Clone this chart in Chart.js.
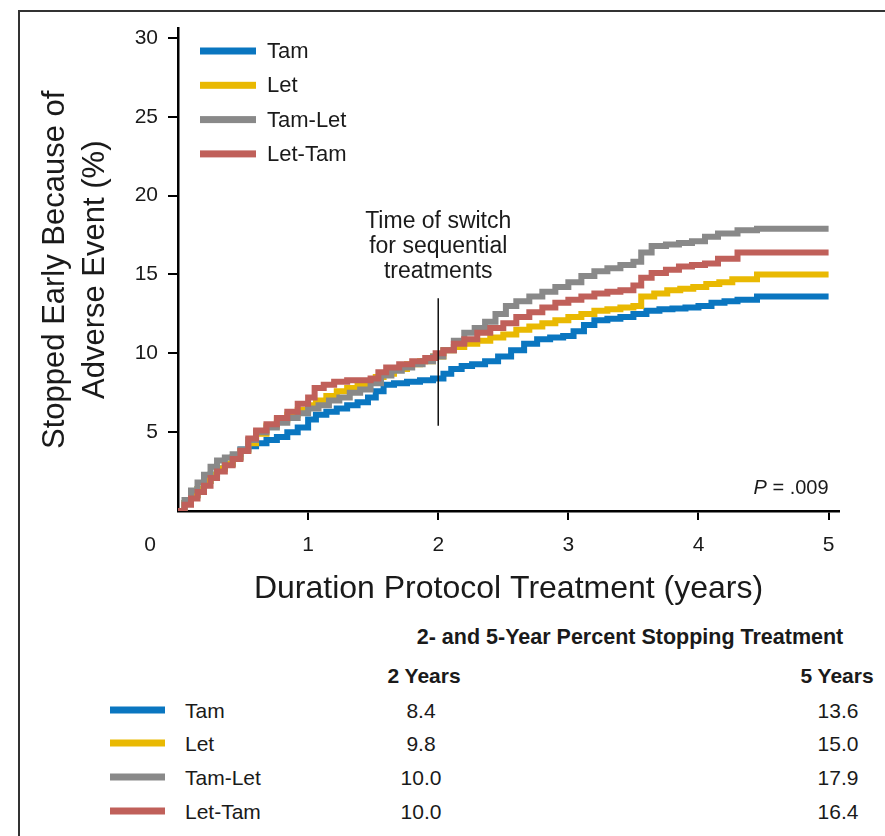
<!DOCTYPE html>
<html>
<head>
<meta charset="utf-8">
<script src="https://cdn.jsdelivr.net/npm/chart.js@4.4.1/dist/chart.umd.min.js"></script>
<style>
  body { margin: 0; background: #fff; font-family: "Liberation Sans", Arial, sans-serif; color: #1a1a1a; }
  #wrap { position: relative; width: 885px; height: 836px; overflow: hidden; }
  #frame { position: absolute; left: 18px; top: 10px; width: 900px; height: 900px;
           border-top: 2px solid #333; border-left: 2px solid #333; }
  #myChart { position: absolute; left: 0; top: 0; }
  .t { position: absolute; white-space: nowrap; font-size: 21px; line-height: 1; transform: translate(-50%, -50%); }
  .l { transform: translate(0, -50%); }
  .b { font-weight: bold; }
  .h { font-size: 21.5px; }
  .sw { position: absolute; width: 55px; height: 7px; transform: translate(0, -50%); }
</style>
</head>
<body>
<div id="wrap">
  <div id="frame"></div>
  <canvas id="myChart" width="885" height="620"></canvas>
  <div id="table"></div>
</div>
<script>
// series names and colours
var seriesNames = ['Tam', 'Let', 'Tam-Let', 'Let-Tam'];
var seriesColors = ['#0a76c0', '#e9b902', '#898989', '#c0605a'];

// cumulative % stopped early (years, percent)
var tamYears = [0, 0.05, 0.1, 0.15, 0.2, 0.25, 0.3, 0.36, 0.42, 0.48,
  0.54, 0.6, 0.68, 0.76, 0.84, 0.92, 1.0, 1.06, 1.14, 1.22,
  1.3, 1.38, 1.46, 1.52, 1.58, 1.66, 1.76, 1.86, 1.96, 2.04,
  2.1, 2.18, 2.26, 2.36, 2.46, 2.56, 2.66, 2.76, 2.86, 2.96,
  3.04, 3.12, 3.2, 3.3, 3.4, 3.5, 3.6, 3.7, 3.8, 3.9,
  4.0, 4.1, 4.2, 4.3, 4.45, 5.0];
var tamPct = [0, 0.5, 1.0, 1.4, 1.9, 2.3, 2.7, 3.0, 3.4, 3.9,
  4.1, 4.3, 4.5, 4.7, 5.0, 5.3, 5.8, 6.1, 6.3, 6.5,
  6.7, 6.9, 7.2, 7.6, 8.0, 8.1, 8.2, 8.3, 8.4, 8.7,
  9.0, 9.2, 9.3, 9.5, 9.8, 10.2, 10.6, 10.9, 11.0, 11.1,
  11.4, 11.8, 12.1, 12.2, 12.3, 12.5, 12.7, 12.8, 12.85, 12.9,
  13.0, 13.2, 13.3, 13.4, 13.6, 13.6];

var letYears = [0, 0.05, 0.1, 0.15, 0.2, 0.25, 0.3, 0.36, 0.42, 0.48,
  0.54, 0.6, 0.68, 0.76, 0.84, 0.92, 1.0, 1.06, 1.14, 1.22,
  1.3, 1.38, 1.46, 1.52, 1.58, 1.66, 1.76, 1.86, 1.96, 2.04,
  2.12, 2.2, 2.3, 2.4, 2.5, 2.6, 2.7, 2.8, 2.9, 3.0,
  3.1, 3.2, 3.3, 3.4, 3.5, 3.56, 3.66, 3.76, 3.86, 3.96,
  4.06, 4.16, 4.26, 4.45, 5.0];
var letPct = [0, 0.5, 1.0, 1.4, 1.9, 2.3, 2.7, 3.0, 3.4, 3.8,
  4.3, 4.9, 5.4, 5.8, 6.1, 6.4, 6.7, 7.0, 7.3, 7.6,
  7.8, 8.0, 8.2, 8.5, 8.7, 9.0, 9.3, 9.5, 9.8, 10.2,
  10.4, 10.6, 10.8, 11.0, 11.2, 11.5, 11.7, 11.9, 12.1, 12.3,
  12.5, 12.7, 12.8, 12.9, 13.0, 13.6, 13.8, 14.0, 14.1, 14.2,
  14.4, 14.5, 14.7, 15.0, 15.0];

var tamLetYears = [0, 0.05, 0.1, 0.15, 0.2, 0.25, 0.3, 0.36, 0.42, 0.48,
  0.54, 0.6, 0.68, 0.76, 0.84, 0.92, 1.0, 1.08, 1.16, 1.24,
  1.32, 1.4, 1.48, 1.56, 1.64, 1.72, 1.8, 1.88, 1.96, 2.04,
  2.12, 2.2, 2.28, 2.36, 2.44, 2.52, 2.6, 2.7, 2.8, 2.9,
  3.0, 3.1, 3.2, 3.3, 3.4, 3.5, 3.56, 3.64, 3.75, 3.85,
  3.95, 4.05, 4.15, 4.3, 4.45, 5.0];
var tamLetPct = [0, 0.7, 1.3, 1.8, 2.3, 2.8, 3.2, 3.4, 3.6, 3.9,
  4.5, 5.0, 5.3, 5.6, 5.9, 6.2, 6.5, 6.7, 7.0, 7.2,
  7.5, 7.7, 8.1, 8.6, 8.9, 9.1, 9.3, 9.5, 9.8, 10.2,
  10.8, 11.3, 11.6, 12.0, 12.5, 13.0, 13.3, 13.6, 13.9, 14.2,
  14.5, 14.9, 15.2, 15.4, 15.6, 15.8, 16.4, 16.8, 16.9, 17.0,
  17.1, 17.4, 17.6, 17.8, 17.9, 17.9];

var letTamYears = [0, 0.05, 0.1, 0.15, 0.2, 0.25, 0.3, 0.36, 0.42, 0.48,
  0.54, 0.6, 0.68, 0.76, 0.84, 0.92, 1.0, 1.05, 1.12, 1.2,
  1.3, 1.4, 1.48, 1.54, 1.6, 1.7, 1.8, 1.9, 1.98, 2.04,
  2.12, 2.2, 2.3, 2.4, 2.5, 2.6, 2.7, 2.8, 2.9, 3.0,
  3.1, 3.2, 3.3, 3.4, 3.5, 3.56, 3.64, 3.75, 3.85, 3.95,
  4.05, 4.15, 4.3, 5.0];
var letTamPct = [0, 0.4, 0.8, 1.2, 1.6, 2.1, 2.5, 2.9, 3.3, 3.8,
  4.6, 5.1, 5.5, 5.9, 6.3, 6.8, 7.2, 7.8, 8.0, 8.2,
  8.3, 8.3, 8.4, 8.8, 9.1, 9.3, 9.5, 9.7, 10.0, 10.2,
  10.6, 10.9, 11.3, 11.6, 11.9, 12.3, 12.6, 12.9, 13.2, 13.4,
  13.6, 13.8, 13.9, 14.0, 14.3, 14.8, 15.1, 15.3, 15.5, 15.6,
  15.7, 16.0, 16.4, 16.4];

// table under the chart
var twoYearPct = ['8.4', '9.8', '10.0', '10.0'];
var fiveYearPct = ['13.6', '15.0', '17.9', '16.4'];

var switchYear = 2;
var pText = '.009';

function pts(xs, ys) {
  return xs.map(function (x, i) { return { x: x, y: ys[i] }; });
}

var allYears = [tamYears, letYears, tamLetYears, letTamYears];
var allPct = [tamPct, letPct, tamLetPct, letTamPct];
var drawOrder = [3, 2, 1, 0]; // red on top

var datasets = seriesNames.map(function (name, i) {
  return {
    label: name,
    data: pts(allYears[i], allPct[i]),
    borderColor: seriesColors[i],
    borderWidth: 6,
    stepped: true,
    pointRadius: 0,
    fill: false,
    order: drawOrder[i]
  };
});

var FONT = '"Liberation Sans", Arial, sans-serif';
var TXT = '#1a1a1a';

var extras = {
  id: 'extras',
  afterDatasetsDraw: function (chart) {
    var ctx = chart.ctx;
    var xs = chart.scales.x, ys = chart.scales.y;
    ctx.save();
    // legend inside plot
    ctx.font = '22px ' + FONT;
    ctx.textBaseline = 'middle';
    ctx.textAlign = 'left';
    seriesNames.forEach(function (name, i) {
      var y = 51 + i * 34.3;
      ctx.fillStyle = seriesColors[i];
      ctx.fillRect(200, y - 3.5, 56, 7);
      ctx.fillStyle = TXT;
      ctx.fillText(name, 267, y + 1);
    });
    // switch marker
    var sx = xs.getPixelForValue(switchYear);
    ctx.strokeStyle = '#111';
    ctx.lineWidth = 1.5;
    ctx.beginPath();
    ctx.moveTo(sx, ys.getPixelForValue(13.5));
    ctx.lineTo(sx, ys.getPixelForValue(5.4));
    ctx.stroke();
    ctx.font = '23px ' + FONT;
    ctx.textAlign = 'center';
    ctx.fillStyle = TXT;
    ['Time of switch', 'for sequential', 'treatments'].forEach(function (s, i) {
      ctx.fillText(s, sx, 222 + i * 25);
    });
    // P value
    ctx.textAlign = 'right';
    ctx.font = '20px ' + FONT;
    var rest = ' = ' + pText;
    var rx = xs.getPixelForValue(5);
    ctx.fillText(rest, rx, 488);
    var w = ctx.measureText(rest).width;
    ctx.font = 'italic 20px ' + FONT;
    ctx.fillText('P', rx - w, 488);
    // origin label
    ctx.font = '21px ' + FONT;
    ctx.textAlign = 'center';
    ctx.fillText('0', 150, 545);
    ctx.restore();
  }
};

function tickColor(c) {
  return c.tick && c.tick.value === 0 ? 'rgba(0,0,0,0)' : '#000';
}

var ctx = document.getElementById('myChart');
var myChart = new Chart(ctx, {
  type: 'line',
  data: { datasets: datasets },
  options: {
    responsive: false,
    animation: false,
    devicePixelRatio: 1,
    layout: { padding: { left: 0, right: 46, top: 28.5, bottom: 0 } },
    plugins: { legend: { display: false }, tooltip: { enabled: false } },
    font: { family: FONT },
    scales: {
      x: {
        type: 'linear',
        min: 0, max: 5.08,
        afterFit: function (s) { s.height = 109; },
        ticks: {
          stepSize: 1, includeBounds: false, padding: 13,
          color: TXT, font: { size: 21, family: FONT },
          callback: function (v) { return v === 0 ? '' : v; }
        },
        grid: { drawOnChartArea: false, tickLength: 9, lineWidth: 2, color: tickColor },
        border: { display: true, color: '#000', width: 2.5 },
        title: {
          display: true, text: 'Duration Protocol Treatment (years)', color: TXT,
          font: { size: 32, family: FONT }, padding: { top: 0, bottom: 12 }
        }
      },
      y: {
        min: 0, max: 30.6,
        afterFit: function (s) { s.width = 178; },
        ticks: {
          stepSize: 5, includeBounds: false, padding: 10,
          color: TXT, font: { size: 21, family: FONT },
          callback: function (v) { return v === 0 ? '' : v; }
        },
        grid: { drawOnChartArea: false, tickLength: 10, lineWidth: 2, color: tickColor },
        border: { display: true, color: '#000', width: 2.5 },
        title: {
          display: true, text: ['Stopped Early Because of', 'Adverse Event (%)'], color: TXT,
          font: { size: 31, family: FONT, lineHeight: 1.29 }, padding: { top: 35, bottom: 0 }
        }
      }
    }
  },
  plugins: [extras]
});

// table of 2- and 5-year values
var tbl = document.getElementById('table');
function addText(txt, x, y, cls) {
  var d = document.createElement('div');
  d.className = 't ' + (cls || '');
  d.style.left = x + 'px';
  d.style.top = y + 'px';
  d.textContent = txt;
  tbl.appendChild(d);
}
addText('2- and 5-Year Percent Stopping Treatment', 630, 638, 'b h');
addText('2 Years', 424, 675, 'b');
addText('5 Years', 837, 675, 'b');
var rowY = [710, 743, 777, 811];
seriesNames.forEach(function (name, i) {
  var sw = document.createElement('div');
  sw.className = 'sw';
  sw.style.left = '110px';
  sw.style.top = rowY[i] + 'px';
  sw.style.background = seriesColors[i];
  tbl.appendChild(sw);
  addText(name, 185, rowY[i], 'l');
  addText(twoYearPct[i], 421, rowY[i]);
  addText(fiveYearPct[i], 838, rowY[i]);
});
</script>
</body>
</html>
